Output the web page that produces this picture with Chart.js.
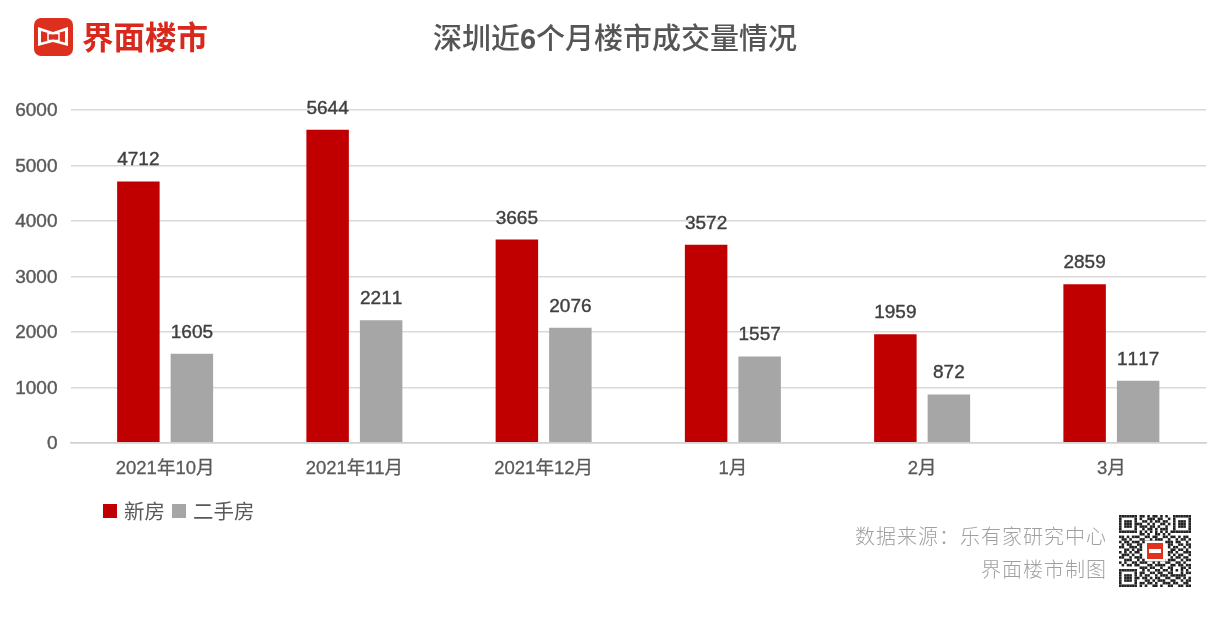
<!DOCTYPE html>
<html>
<head>
<meta charset="utf-8">
<style>
  html, body { margin: 0; padding: 0; background: #fff; }
  #wrap { position: relative; width: 1230px; height: 618px; overflow: hidden; font-family: "Liberation Sans", "Noto Sans CJK SC", sans-serif; }
  #myChart { position: absolute; left: 0; top: 0; }
  .logo { position: absolute; left: 34px; top: 18px; width: 39px; height: 38px; background: #dc2f1e; border-radius: 7px; }
  .logo svg { position: absolute; left: 0; top: 0; }
  .brand { position: absolute; left: 82px; top: 16px; font: bold 31.5px "Noto Sans CJK SC"; color: #d8291c; line-height: 38px; }
  .title { position: absolute; left: 0; width: 1230px; top: 20px; text-align: center; font: 500 29px "Liberation Sans", "Noto Sans CJK SC"; color: #555; line-height: 38px; }
  .src { position: absolute; right: 123px; font: 300 20px "Noto Sans CJK SC"; color: #a0a0a0; line-height: 28px; letter-spacing: 1px; white-space: nowrap; }
  .legend { position: absolute; left: 103px; top: 498px; height: 26px; display: flex; align-items: center; font: 20.5px "Noto Sans CJK SC"; color: #595959; }
  .legend i { width: 14px; height: 14px; margin-right: 7px; }
  .legend span { margin-right: 7px; position: relative; top: -1.5px; }
</style>
</head>
<body>
<div id="wrap">
  <canvas id="myChart" width="1230" height="618"></canvas>
  <div class="logo"><svg width="39" height="38"><path d="M4 9 L19 14 L34 9 V28 L19 24 L4 28 Z" fill="#fff"/><path d="M7 13 L19 16.5 L31 13 V24.5 L19 21.5 L7 24.5 Z" fill="#dc2f1e"/><rect x="14" y="15.5" width="11" height="7" fill="none" stroke="#fff" stroke-width="1.5"/></svg></div>
  <div class="brand">界面楼市</div>
  <div class="title">深圳近<b>6</b>个月楼市成交量情况</div>
  <div class="legend" id="legend"></div>
  <div class="src" style="top:522px">数据来源：乐有家研究中心</div>
  <div class="src" style="top:555px">界面楼市制图</div>
  <canvas id="qr" width="72" height="72" style="position:absolute;left:1119px;top:515px"></canvas>
</div>
<script src="https://cdn.jsdelivr.net/npm/chart.js@4"></script>
<script>
const months = ["2021年10月", "2021年11月", "2021年12月", "1月", "2月", "3月"];
const newHomes = [4712, 5644, 3665, 3572, 1959, 2859];
const resale = [1605, 2211, 2076, 1557, 872, 1117];
const yTicks = [0, 1000, 2000, 3000, 4000, 5000, 6000];
const seriesNames = ["新房", "二手房"];
const seriesColors = ["#c00000", "#a6a6a6"];

// value labels above each bar
const barLabels = {
  id: "barLabels",
  afterDatasetsDraw(chart) {
    const ctx = chart.ctx;
    ctx.save();
    ctx.font = '19px "Liberation Sans"';
    ctx.fontKerning = "none";
    ctx.fillStyle = "#404040";
    ctx.strokeStyle = "#404040";
    ctx.lineWidth = 0.4;
    ctx.textAlign = "center";
    ctx.textBaseline = "alphabetic";
    chart.data.datasets.forEach((ds, i) => {
      chart.getDatasetMeta(i).data.forEach((bar, j) => {
        ctx.fillText(ds.data[j], bar.x, bar.y - 16);
        ctx.strokeText(ds.data[j], bar.x, bar.y - 16);
      });
    });
    ctx.restore();
  },
};

new Chart(document.getElementById("myChart").getContext("2d"), {
  type: "bar",
  data: {
    labels: months,
    datasets: [
      { label: seriesNames[0], data: newHomes, backgroundColor: seriesColors[0] },
      { label: seriesNames[1], data: resale, backgroundColor: seriesColors[1] },
    ],
  },
  options: {
    responsive: false,
    animation: false,
    layout: { padding: { left: 0, right: 24, top: 110, bottom: 131 } },
    datasets: { bar: { barPercentage: 0.794, categoryPercentage: 0.5655 } },
    scales: {
      x: {
        grid: { display: false },
        border: { color: "#d0d0d0", width: 1.5 },
        ticks: {
          color: "#595959",
          padding: 7,
          textStrokeColor: "#595959",
          textStrokeWidth: 0.3,
          font: { size: 18.5, family: '"Liberation Sans", "Noto Sans CJK SC"' },
        },
      },
      y: {
        min: 0,
        max: 6000,
        afterBuildTicks(axis) { axis.ticks = yTicks.map((v) => ({ value: v })); },
        afterFit(axis) { axis.width = 70.5; },
        grid: { color: "#d9d9d9", lineWidth: 1.5, drawTicks: false },
        border: { display: false },
        ticks: {
          color: "#595959",
          padding: 13,
          labelOffset: 1,
          textStrokeColor: "#595959",
          textStrokeWidth: 0.4,
          font: { size: 19, family: '"Liberation Sans"' },
          callback: (v) => String(v),
        },
      },
    },
    plugins: {
      legend: { display: false },
      tooltip: { enabled: false },
    },
  },
  plugins: [barLabels],
});

const legend = document.getElementById("legend");
seriesNames.forEach((name, i) => {
  const box = document.createElement("i");
  box.style.background = seriesColors[i];
  const txt = document.createElement("span");
  txt.textContent = name;
  legend.append(box, txt);
});

// QR badge, decorative
const qrRows = [
  "1111111011010110101001111111",
  "1000001010011101100101000001",
  "1011101001101011011001011101",
  "1011101110010100110101011101",
  "1011101011101101001001011101",
  "1000001001011010111001000001",
  "1111111010101010101011111111",
  "0000000011010011010100000000",
  "1101011100110110011011010110",
  "0110100011001011100100101101",
  "1011011101110100101110110010",
  "0101100110000000000110011011",
  "1100111010000000000101100101",
  "0011010110000000000011011010",
  "1010101100000000000110100111",
  "0111010010000000000101011001",
  "1100101110000000000010110110",
  "0011100101011010110111001011",
  "1010011011100101001100110100",
  "0101101100011011110011011011",
  "0000000011101100100110001101",
  "1111111001010011011010101010",
  "1000001011001101100110001011",
  "1011101010110010111011111100",
  "1011101101101011001100110101",
  "1011101000110101110011001011",
  "1000001011011010011101100110",
  "1111111010100110100110011011",
];
const qr = document.getElementById("qr").getContext("2d");
const cell = 72 / qrRows.length;
qr.fillStyle = "#222";
qrRows.forEach((row, y) => {
  [...row].forEach((c, x) => {
    if (c === "1") qr.fillRect(x * cell, y * cell, cell, cell);
  });
});
qr.fillStyle = "#fff";
qr.fillRect(26, 26, 20, 20);
qr.fillStyle = "#e0301e";
qr.fillRect(28, 28, 16, 16);
qr.fillStyle = "#fff";
qr.fillRect(30, 34, 12, 4);
</script>
</body>
</html>
